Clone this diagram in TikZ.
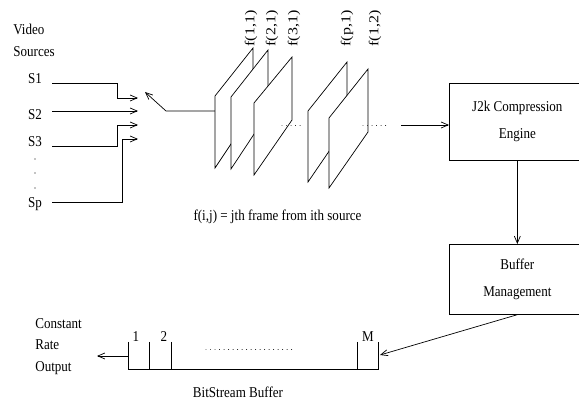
\documentclass[tikz,border=0pt]{standalone}
\usepackage{fontspec}
\setmainfont{Liberation Serif}
\usetikzlibrary{arrows.meta}
\newcommand{\hsq}[1]{\scalebox{0.87}[1]{#1}}
\newcommand{\vsq}[1]{\scalebox{1}[0.85]{#1}}
\begin{document}
\begin{tikzpicture}[x=1pt,y=-1pt,line width=0.7pt,
  >={Straight Barb[length=7pt,width=6pt]},
  lbl/.style={inner sep=0pt,font=\fontsize{15}{18}\selectfont},
  vlbl/.style={inner sep=0pt,rotate=90,anchor=west,font=\fontsize{16}{18}\selectfont},
  box/.style={draw,inner sep=0pt,align=center,minimum width=136pt,font=\fontsize{15}{27}\selectfont},
  frame/.style={draw,fill=white},
  dotline/.style={line width=0.9pt,dash pattern=on 0.01pt off 4.5pt,line cap=round}]
\useasboundingbox (0,0) rectangle (579,403);
\clip (0,0) rectangle (579,403);

% sources
\node[lbl,anchor=base west] (video) at (13,35) {\hsq{Video}};
\node[lbl,anchor=base west] (sources) at (13,57) {\hsq{Sources}};
\node[lbl,anchor=base] (s1) at (35,84) {\hsq{S1}};
\node[lbl,anchor=base] (s2) at (35,120) {\hsq{S2}};
\node[lbl,anchor=base] (s3) at (35,147) {\hsq{S3}};
\node[lbl,anchor=base] (sp) at (35,208) {\hsq{Sp}};
\fill (35,159) circle (0.6);
\fill (35,173) circle (0.6);
\fill (35,188) circle (0.6);

\coordinate (a1) at (52,83);  \coordinate (m1) at (138,98);
\coordinate (a2) at (52,111); \coordinate (m2) at (138,111);
\coordinate (a3) at (52,146); \coordinate (m3) at (138,125);
\coordinate (ap) at (52,202); \coordinate (mp) at (138,139);
\draw[->] (a1) -- (117,83) -- (117,98) -- (m1);
\draw[->] (a2) -- (m2);
\draw[->] (a3) -- (117,146) -- (117,125) -- (m3);
\draw[->] (ap) -- (122,202) -- (122,139) -- (mp);

% switch
\coordinate (f1in) at (215,111);
\coordinate (sw) at (166,111);
\coordinate (swt) at (145,92);
\draw[->] (f1in) -- (sw) -- (swt);

% frames
\draw[frame] (215,168) -- (215,96) -- (253,48) -- (253,111) -- cycle;
\draw[frame] (231,169) -- (231,97) -- (268,50) -- (268,113) -- cycle;
\draw[frame] (254,175) -- (254,103) -- (292,57) -- (292,120) -- cycle;
\draw[frame] (308,182) -- (308,111) -- (347,62) -- (347,125) -- cycle;
\draw[frame] (329,188) -- (329,118) -- (368,69) -- (368,132) -- cycle;
\draw[dotline] (282,125) -- (302,125);
\draw[dotline] (363,125) -- (390,125);

\node[vlbl] (l11) at (251,47) {\vsq{f(1,1)}};
\node[vlbl] (l21) at (272,47) {\vsq{f(2,1)}};
\node[vlbl] (l31) at (294,47) {\vsq{f(3,1)}};
\node[vlbl] (lp1) at (347,47) {\vsq{f(p,1)}};
\node[vlbl] (l12) at (375,47) {\vsq{f(1,2)}};

\node[lbl,anchor=base] (cap) at (277.5,221) {\hsq{f(i,j) = jth frame from ith source}};

% boxes
\node[box,minimum height=77pt,anchor=north west] (j2k) at (449,83)
  {\hsq{J2k Compression}\\\hsq{Engine}};
\node[box,minimum height=70pt,anchor=north west] (bm) at (449,244)
  {\hsq{Buffer}\\\hsq{Management}};
\coordinate (jin) at (401,125);
\draw[->] (jin) -- (jin -| j2k.west);
\draw[->] (j2k.south) -- (bm.north);
\coordinate (bin) at (380,355);
\draw[->] (bm.south) -- (bin);

% bitstream buffer
\draw (128,342) -- (128,369) -- (378,369) -- (378,342);
\draw (149,342) -- (149,369);
\draw (171,342) -- (171,369);
\draw (357,342) -- (357,369);
\draw[dotline] (206,349) -- (296,349);
\node[lbl,anchor=base] (c1) at (136,342) {\hsq{1}};
\node[lbl,anchor=base] (c2) at (164,342) {\hsq{2}};
\node[lbl,anchor=base] (cm) at (368,342) {\hsq{M}};
\coordinate (bout) at (128,356);
\coordinate (otip) at (97,356);
\draw[->] (bout) -- (otip);
\node[lbl,anchor=base] (bsb) at (238,398) {\hsq{BitStream Buffer}};
\node[lbl,anchor=base west] (const) at (35,329) {\hsq{Constant}};
\node[lbl,anchor=base west] (rate) at (35,350) {\hsq{Rate}};
\node[lbl,anchor=base west] (outp) at (35,372) {\hsq{Output}};
\end{tikzpicture}
\end{document}
